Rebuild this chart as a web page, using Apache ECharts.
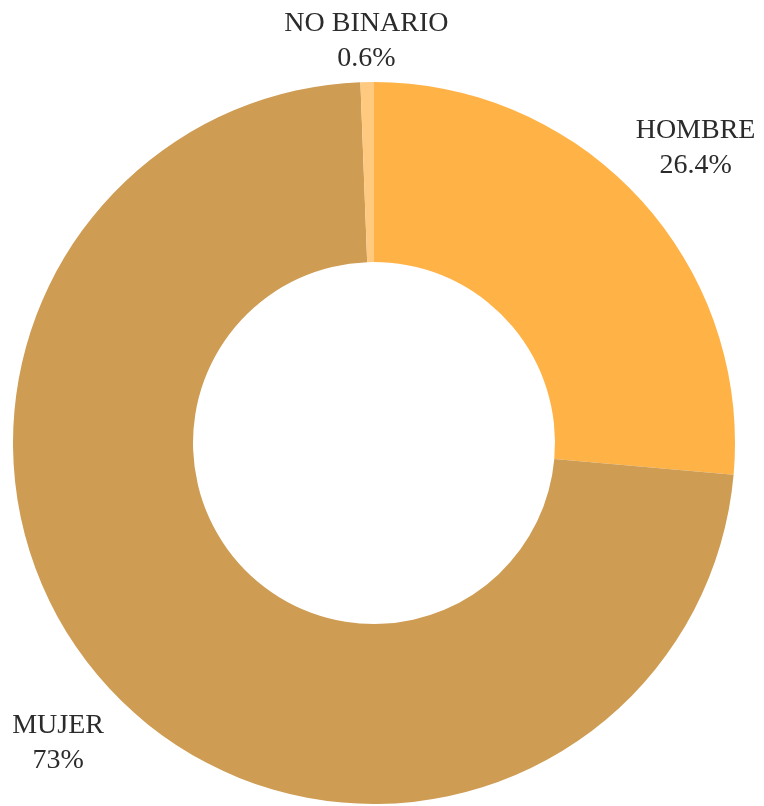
<!DOCTYPE html>
<html>
<head>
<meta charset="utf-8">
<script src="https://cdn.jsdelivr.net/npm/echarts@6/dist/echarts.min.js"></script>
<style>
  html, body { margin: 0; padding: 0; background: #fff; }
  #main { width: 764px; height: 806px; }
</style>
</head>
<body>
<div id="main"></div>
<script>
// datos
var categories = ['HOMBRE', 'MUJER', 'NO BINARIO'];
var values = [26.4, 73, 0.6];
var colors = ['#FFB246', '#CE9C53', '#FFC97F'];

var cx = 374, cy = 443;
var labelDist = [436, 436, 402];

var total = values.reduce(function (a, b) { return a + b; }, 0);
// angulo medio de cada porcion (grados, desde las 12 en sentido horario)
var midAngles = [];
var acc = 0;
for (var i = 0; i < values.length; i++) {
    midAngles.push(90 - (acc + values[i] / 2) / total * 360);
    acc += values[i];
}

var pieData = [];
for (var i = 0; i < categories.length; i++) {
    pieData.push({ name: categories[i], value: values[i], itemStyle: { color: colors[i] } });
}

var myChart = echarts.init(document.getElementById('main'));

var option = {
    animation: false,
    series: [
        {
            type: 'pie',
            center: [cx, cy],
            radius: [181, 361],
            startAngle: 90,
            clockwise: true,
            data: pieData,
            label: {
                show: true,
                position: 'outside',
                fontFamily: 'Liberation Serif',
                fontSize: 28,
                lineHeight: 35,
                color: '#2b2b2b',
                overflow: 'none',
                width: 200,
                formatter: function (p) {
                    return p.name + '\n' + p.value + '%';
                }
            },
            labelLine: { show: false },
            labelLayout: function (p) {
                var a = midAngles[p.dataIndex] * Math.PI / 180;
                var d = labelDist[p.dataIndex];
                return {
                    x: cx + d * Math.cos(a),
                    y: cy - d * Math.sin(a),
                    width: 200,
                    align: 'center',
                    verticalAlign: 'middle'
                };
            },
            emphasis: { disabled: true }
        }
    ]
};

myChart.setOption(option);
</script>
</body>
</html>
